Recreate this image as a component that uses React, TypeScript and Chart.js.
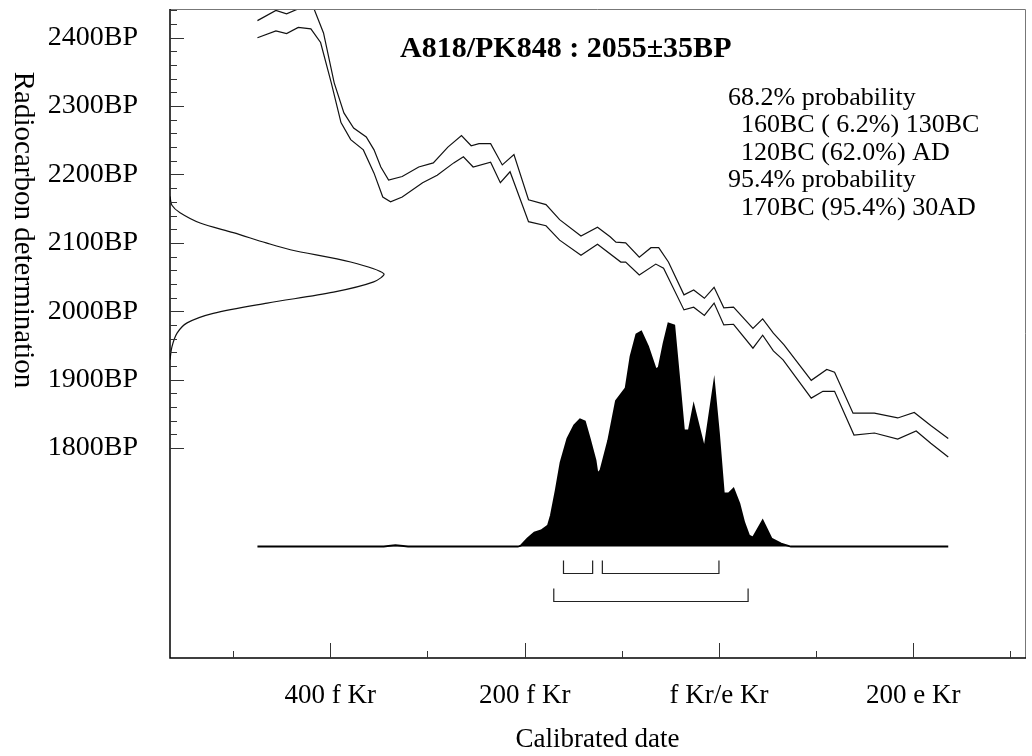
import React, { useEffect, useRef } from 'react';
import { Chart, registerables } from 'chart.js';

Chart.register(...registerables);

// ---------- data ----------
const curveUpperYears = [-475, -456, -445, -430, -417, -407, -396, -386, -376, -363, -355, -348, -340, -326, -309, -294, -279, -265, -255, -247, -235, -223, -211, -196, -178, -164, -142, -125, -112, -106, -96, -82, -70, -62, -52, -36, -26, -15, -5, 5, 15, 35, 45, 56, 67, 95, 111, 119, 138, 160, 184, 201, 218, 236];
const curveUpperBP = [2425, 2440, 2435, 2444, 2443, 2407, 2334, 2290, 2268, 2255, 2236, 2211, 2192, 2197, 2211, 2217, 2240, 2257, 2242, 2245, 2245, 2214, 2229, 2163, 2156, 2134, 2110, 2123, 2109, 2101, 2100, 2079, 2093, 2093, 2072, 2024, 2031, 2019, 2035, 2005, 2006, 1975, 1989, 1968, 1951, 1899, 1915, 1911, 1851, 1851, 1844, 1852, 1833, 1814];

const curveLowerYears = [-475, -456, -445, -433, -420, -410, -399, -389, -379, -366, -355, -346, -338, -326, -305, -290, -273, -263, -253, -235, -225, -215, -196, -178, -164, -142, -125, -101, -96, -82, -65, -57, -36, -26, -15, -5, 5, 15, 35, 45, 56, 66, 95, 107, 119, 139, 160, 184, 203, 218, 236];
const curveLowerBP = [2400, 2410, 2406, 2415, 2413, 2393, 2334, 2276, 2251, 2236, 2202, 2167, 2160, 2167, 2188, 2199, 2217, 2226, 2211, 2218, 2188, 2204, 2131, 2125, 2104, 2082, 2098, 2072, 2072, 2053, 2069, 2063, 2002, 2006, 1994, 2012, 1980, 1981, 1946, 1965, 1942, 1929, 1873, 1883, 1883, 1819, 1822, 1813, 1825, 1807, 1787];

// measured radiocarbon likelihood (drawn along the BP axis)
const measuredBP = [2168, 2155, 2144, 2129, 2115, 2100, 2090, 2072, 2055, 2043, 2028, 2012, 1997, 1983, 1968, 1948, 1929];
const measuredDensity = [0, 0.009, 0.047, 0.141, 0.296, 0.45, 0.563, 0.845, 1.0, 0.953, 0.765, 0.455, 0.202, 0.08, 0.033, 0.009, 0];

// calibrated probability distribution
const calYears = [-475, -345, -333, -320, -207, -204, -197, -190, -183, -176, -173, -168, -163, -156, -149, -143, -138, -133, -127, -125, -122, -114, -106, -96, -91, -85, -80, -73, -65, -62, -57, -52, -46, -41, -36, -31, -26, -15, -5, 0, 5, 10, 15, 21, 26, 31, 35, 45, 54, 64, 74, 236];
const calDensity = [0, 0, 0.006, 0, 0, 0.004, 0.036, 0.063, 0.072, 0.094, 0.139, 0.251, 0.377, 0.484, 0.543, 0.57, 0.561, 0.484, 0.386, 0.327, 0.341, 0.475, 0.653, 0.711, 0.852, 0.951, 0.964, 0.897, 0.794, 0.803, 0.91, 1.0, 0.991, 0.758, 0.52, 0.52, 0.632, 0.439, 0.735, 0.507, 0.238, 0.238, 0.26, 0.193, 0.108, 0.049, 0.04, 0.117, 0.036, 0.013, 0, 0];

const range68 = [[-160, -130], [-120, 0]];
const range95 = [[-170, 30]];

const xMajorTicks = [-400, -200, 0, 200];
const xTickLabels = ['400 f Kr', '200 f Kr', 'f Kr/e Kr', '200 e Kr'];
const xMinorTicks = [-500, -300, -100, 100, 300];
const yMajorTicks = [1800, 1900, 2000, 2100, 2200, 2300, 2400];
const yTickLabels = ['1800BP', '1900BP', '2000BP', '2100BP', '2200BP', '2300BP', '2400BP'];
const yMinorTicks = [1820, 1840, 1860, 1880, 1920, 1940, 1960, 1980, 2020, 2040, 2060, 2080, 2120, 2140, 2160, 2180, 2220, 2240, 2260, 2280, 2320, 2340, 2360, 2380, 2420, 2440];

const titleText = 'A818/PK848 : 2055±35BP';
const summaryLines = ['68.2% probability', '  160BC ( 6.2%) 130BC', '  120BC (62.0%) AD', '95.4% probability', '  170BC (95.4%) 30AD'];
const xTitle = 'Calibrated date';
const yTitle = 'Radiocarbon determination';

const FONT = "'Liberation Serif', 'Times New Roman', serif";

const overlayPlugin = {
  id: 'oxcalOverlay',
  afterDatasetsDraw(chart: any) {
    const { ctx, chartArea } = chart;
    const xs = chart.scales.x;
    const ys = chart.scales.y;
    const yd = chart.scales.yd;
    const { left, right, top, bottom } = chartArea;
    ctx.save();
    // frame
    ctx.lineWidth = 1;
    ctx.strokeStyle = '#777';
    ctx.beginPath();
    ctx.moveTo(left, top + 0.5);
    ctx.lineTo(right + 0.5, top + 0.5);
    ctx.lineTo(right + 0.5, bottom);
    ctx.stroke();
    ctx.strokeStyle = '#000';
    ctx.lineWidth = 1.5;
    ctx.beginPath();
    ctx.moveTo(left, top);
    ctx.lineTo(left, bottom);
    ctx.lineTo(right + 1, bottom);
    ctx.stroke();
    // ticks
    ctx.lineWidth = 1;
    ctx.strokeStyle = '#333';
    ctx.beginPath();
    yMajorTicks.forEach((v) => {
      const p = Math.round(ys.getPixelForValue(v)) + 0.5;
      ctx.moveTo(left, p);
      ctx.lineTo(left + 14, p);
    });
    yMinorTicks.forEach((v) => {
      const p = Math.round(ys.getPixelForValue(v)) + 0.5;
      ctx.moveTo(left, p);
      ctx.lineTo(left + 7, p);
    });
    xMajorTicks.forEach((v) => {
      const p = Math.round(xs.getPixelForValue(v)) + 0.5;
      ctx.moveTo(p, bottom);
      ctx.lineTo(p, bottom - 15);
    });
    xMinorTicks.forEach((v) => {
      const p = Math.round(xs.getPixelForValue(v)) + 0.5;
      ctx.moveTo(p, bottom);
      ctx.lineTo(p, bottom - 7);
    });
    ctx.stroke();
    // range brackets
    const base = yd.getPixelForValue(0);
    ctx.strokeStyle = '#222';
    ctx.lineWidth = 1.2;
    const bracket = (r: number[], off: number) => {
      const a = xs.getPixelForValue(r[0]);
      const b = xs.getPixelForValue(r[1]);
      const y = Math.round(base + off) + 0.5;
      ctx.beginPath();
      ctx.moveTo(a, y - 13);
      ctx.lineTo(a, y);
      ctx.lineTo(b, y);
      ctx.lineTo(b, y - 13);
      ctx.stroke();
    };
    range68.forEach((r) => bracket(r, 27));
    range95.forEach((r) => bracket(r, 55));
    // texts
    ctx.fillStyle = '#000';
    ctx.textBaseline = 'middle';
    ctx.textAlign = 'left';
    ctx.font = `bold 30px ${FONT}`;
    ctx.fillText(titleText, 400, 49);
    ctx.font = `26px ${FONT}`;
    const sp = ctx.measureText(' ').width;
    summaryLines.forEach((line, i) => {
      const t = line.replace(/^ +/, '');
      const ind = (line.length - t.length) * sp;
      ctx.fillText(t, 728 + ind, 98 + i * 27.5);
    });
    ctx.font = `27px ${FONT}`;
    ctx.textAlign = 'center';
    ctx.fillText(xTitle, (left + right) / 2, 740);
    ctx.save();
    ctx.translate(23, 230);
    ctx.rotate(Math.PI / 2);
    ctx.font = `29px ${FONT}`;
    ctx.fillText(yTitle, 0, 0);
    ctx.restore();
    ctx.restore();
  },
};

export default function App() {
  const ref = useRef<HTMLCanvasElement | null>(null);
  useEffect(() => {
    if (!ref.current) return;
    const chart = new Chart(ref.current, {
      type: 'line',
      data: {
        datasets: [
          {
            label: 'calibrated',
            data: calYears.map((x, i) => ({ x, y: calDensity[i] })),
            xAxisID: 'x',
            yAxisID: 'yd',
            borderColor: '#000',
            backgroundColor: '#000',
            borderWidth: 1.8,
            fill: 'origin',
            pointRadius: 0,
            tension: 0,
          },
          {
            label: 'upper',
            data: curveUpperYears.map((x, i) => ({ x, y: curveUpperBP[i] })),
            xAxisID: 'x',
            yAxisID: 'y',
            borderColor: '#111',
            borderWidth: 1.2,
            fill: false,
            pointRadius: 0,
            tension: 0,
          },
          {
            label: 'lower',
            data: curveLowerYears.map((x, i) => ({ x, y: curveLowerBP[i] })),
            xAxisID: 'x',
            yAxisID: 'y',
            borderColor: '#111',
            borderWidth: 1.2,
            fill: false,
            pointRadius: 0,
            tension: 0,
          },
          {
            label: 'measured',
            data: measuredBP.map((y, i) => ({ x: measuredDensity[i], y })),
            xAxisID: 'xd',
            yAxisID: 'y',
            borderColor: '#111',
            borderWidth: 1.2,
            fill: false,
            pointRadius: 0,
            tension: 0.3,
          },
        ],
      },
      options: {
        responsive: false,
        animation: false,
        events: [],
        layout: { padding: { top: 9, right: 7, left: 0, bottom: 0 } },
        plugins: { legend: { display: false }, tooltip: { enabled: false }, title: { display: false } },
        scales: {
          x: {
            type: 'linear',
            position: 'bottom',
            min: -565,
            max: 315,
            grid: { display: false, drawTicks: false },
            border: { display: false },
            afterBuildTicks: (s: any) => {
              s.ticks = xMajorTicks.map((v) => ({ value: v }));
            },
            afterFit: (s: any) => {
              s.height = 98;
              s.paddingLeft = 0;
              s.paddingRight = 0;
            },
            ticks: {
              autoSkip: false,
              maxRotation: 0,
              padding: 22,
              color: '#000',
              font: { family: FONT, size: 27 },
              callback: (v: any) => xTickLabels[xMajorTicks.indexOf(Number(v))] ?? '',
            },
          },
          xd: {
            type: 'linear',
            axis: 'x',
            position: 'bottom',
            display: false,
            min: 0,
            max: 4,
          },
          y: {
            type: 'linear',
            position: 'left',
            min: 1493,
            max: 2442,
            grid: { display: false, drawTicks: false },
            border: { display: false },
            afterBuildTicks: (s: any) => {
              s.ticks = yMajorTicks.map((v) => ({ value: v }));
            },
            afterFit: (s: any) => {
              s.width = 170;
              s.paddingTop = 0;
              s.paddingBottom = 0;
            },
            ticks: {
              autoSkip: false,
              padding: 32,
              color: '#000',
              font: { family: FONT, size: 28 },
              callback: (v: any) => yTickLabels[yMajorTicks.indexOf(Number(v))] ?? '',
            },
          },
          yd: {
            type: 'linear',
            axis: 'y',
            position: 'left',
            display: false,
            min: -0.5,
            max: 2.41,
          },
        },
      } as any,
      plugins: [overlayPlugin],
    });
    return () => chart.destroy();
  }, []);
  return (
    <div style={{ position: 'fixed', left: 0, top: 0, width: 1032, height: 756, background: '#fff' }}>
      <canvas ref={ref} width={1032} height={756} style={{ display: 'block' }} />
    </div>
  );
}
